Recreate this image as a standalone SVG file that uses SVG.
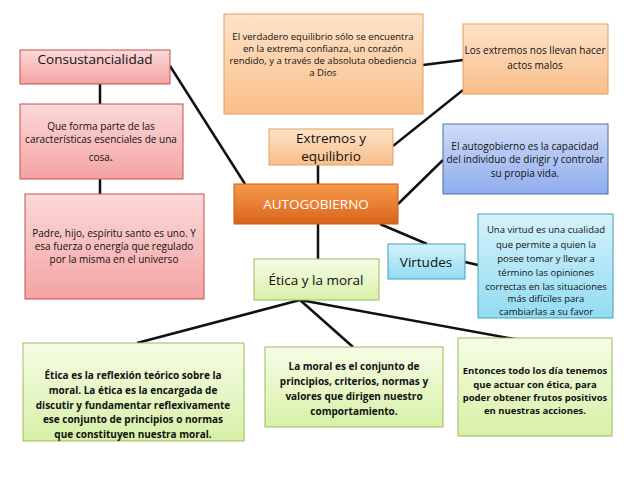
<svg xmlns="http://www.w3.org/2000/svg" width="638" height="479" viewBox="0 0 638 479">
<style>
text{font-family:"Open Sans","Liberation Sans",sans-serif;fill:#111;text-anchor:middle}
.s{font-size:10px}
.m{font-size:9.5px}
.b{font-size:10px;font-weight:bold}
.l{font-size:13.5px}
rect{stroke-width:1}
.pk{fill:url(#pk);stroke:#c0504d}
.or{fill:url(#or);stroke:#e0a060}
.bl{fill:url(#bl);stroke:#4f6fa0}
.cy{fill:url(#cy);stroke:#40a0c0}
.gr{fill:url(#gr);stroke:#9bbb59}
.c line{stroke:#111;stroke-width:2.5}
</style>
<defs>
<linearGradient id="pk" x1="0" y1="0" x2="0" y2="1"><stop offset="0" stop-color="#fbd9d9"/><stop offset="1" stop-color="#f4a3a3"/></linearGradient>
<linearGradient id="or" x1="0" y1="0" x2="0" y2="1"><stop offset="0" stop-color="#fde3c8"/><stop offset="1" stop-color="#f9be8a"/></linearGradient>
<linearGradient id="au" x1="0" y1="0" x2="0" y2="1"><stop offset="0" stop-color="#f79a4a"/><stop offset="1" stop-color="#d9651d"/></linearGradient>
<linearGradient id="bl" x1="0" y1="0" x2="0" y2="1"><stop offset="0" stop-color="#cfdcf8"/><stop offset="1" stop-color="#8eacee"/></linearGradient>
<linearGradient id="cy" x1="0" y1="0" x2="0" y2="1"><stop offset="0" stop-color="#d4f2fb"/><stop offset="1" stop-color="#92dcf2"/></linearGradient>
<linearGradient id="gr" x1="0" y1="0" x2="0" y2="1"><stop offset="0" stop-color="#f5fde6"/><stop offset="1" stop-color="#d8f0a8"/></linearGradient>
</defs>
<g class="c" id="connectors">
<line x1="170" y1="66" x2="245" y2="184"/>
<line x1="100" y1="84" x2="100" y2="104"/>
<line x1="100" y1="179" x2="100" y2="194"/>
<line x1="423" y1="65" x2="463" y2="60"/>
<line x1="393" y1="146" x2="463" y2="90"/>
<line x1="318" y1="165" x2="318" y2="184"/>
<line x1="398" y1="204" x2="443" y2="160"/>
<line x1="380" y1="224" x2="427" y2="244"/>
<line x1="465" y1="262" x2="478" y2="265"/>
<line x1="318" y1="224" x2="318" y2="259"/>
<line x1="300" y1="300" x2="137" y2="343"/>
<line x1="300" y1="300" x2="353" y2="347"/>
<line x1="300" y1="300" x2="520" y2="340"/>
</g>
<g id="consust"><rect class="pk" x="20" y="50" width="150" height="34"/><text class="l" x="95" y="64">Consustancialidad</text></g>
<g id="queforma"><rect class="pk" x="20" y="104" width="163" height="75"/><text class="s" x="101" y="130">Que forma parte de las</text><text class="s" x="101" y="143">características esenciales de una</text><text class="s" x="101" y="161">cosa<tspan font-size="13">.</tspan></text></g>
<g id="padre"><rect class="pk" x="25" y="194" width="179" height="105"/><text class="s" x="114" y="237">Padre, hijo, espíritu santo es uno.  Y</text><text class="s" x="114" y="250">esa fuerza o energía que    regulado</text><text class="s" x="114" y="263">por la misma en el universo</text></g>
<g id="verdadero"><rect class="or" x="224" y="14" width="199" height="100"/><text class="m" x="323" y="40">El verdadero equilibrio sólo se encuentra</text><text class="m" x="323" y="52">en la extrema confianza, un corazón</text><text class="m" x="323" y="64">rendido, y a través de absoluta obediencia</text><text class="m" x="323" y="76">a Dios</text></g>
<g id="extremos"><rect class="or" x="269" y="129" width="124" height="36"/><text class="l" x="331" y="143">Extremos y</text><text class="l" x="331" y="161">equilibrio</text></g>
<g id="losextremos"><rect class="or" x="463" y="24" width="145" height="70"/><text class="s" x="535" y="54">Los extremos nos llevan hacer</text><text class="s" x="535" y="69">actos malos</text></g>
<g id="autogobierno"><rect fill="url(#au)" stroke="#c85a18" x="234" y="184" width="164" height="40"/><text class="l" x="316" y="209" style="fill:#fff">AUTOGOBIERNO</text></g>
<g id="capacidad"><rect class="bl" x="443" y="124" width="165" height="70"/><text class="s" x="525" y="150">El autogobierno es la capacidad</text><text class="s" x="525" y="163">del individuo de dirigir y controlar</text><text class="s" x="525" y="177">su propia vida.</text></g>
<g id="virtudes"><rect class="cy" x="388" y="244" width="77" height="35"/><text class="l" x="426" y="267">Virtudes</text></g>
<g id="unavirtud"><rect class="cy" x="478" y="214" width="135" height="104"/><text class="m" x="546" y="233">Una virtud  es  una cualidad</text><text class="m" x="546" y="248">que permite a quien la</text><text class="m" x="546" y="262">posee tomar y llevar a</text><text class="m" x="546" y="276">término las opiniones</text><text class="m" x="546" y="290">correctas en las situaciones</text><text class="m" x="546" y="302">más difíciles para</text><text class="m" x="546" y="315">cambiarlas a su favor</text></g>
<g id="etica"><rect class="gr" x="254" y="259" width="125" height="41"/><text class="l" x="316" y="285">Ética y la moral</text></g>
<g id="etica-def"><rect class="gr" x="23" y="343" width="221" height="98"/><text class="b" x="133" y="379">Ética es la reflexión teórico sobre la</text><text class="b" x="133" y="394">moral. La ética es la encargada de</text><text class="b" x="133" y="409">discutir y fundamentar reflexivamente</text><text class="b" x="133" y="423">ese conjunto de principios o normas</text><text class="b" x="133" y="438">que constituyen nuestra moral.</text></g>
<g id="moral-def"><rect class="gr" x="265" y="347" width="178" height="80"/><text class="b" x="354" y="370">La moral es el conjunto de</text><text class="b" x="354" y="385">principios, criterios, normas y</text><text class="b" x="354" y="400">valores que dirigen nuestro</text><text class="b" x="354" y="415">comportamiento.</text></g>
<g id="entonces"><rect class="gr" x="458" y="338" width="154" height="98"/><text class="m" x="535" y="374" font-weight="bold">Entonces todo los día tenemos</text><text class="m" x="535" y="388" font-weight="bold">que  actuar con  ética, para</text><text class="m" x="535" y="401" font-weight="bold">poder obtener frutos positivos</text><text class="m" x="535" y="414" font-weight="bold">en nuestras acciones.</text></g>
</svg>
